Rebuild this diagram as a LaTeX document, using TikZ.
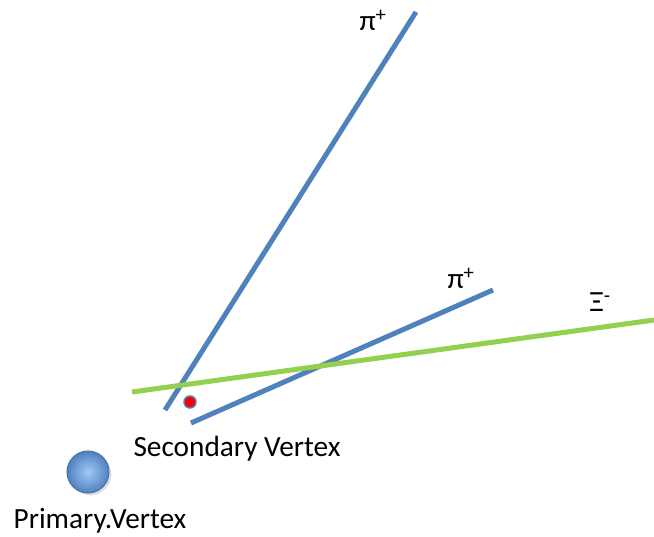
\documentclass[tikz,border=0pt]{standalone}
\usepackage{fontspec}
\setmainfont{Carlito}
\usetikzlibrary{shadows}
\definecolor{trkblue}{RGB}{79,129,189}
\definecolor{trkgreen}{RGB}{146,208,80}
\definecolor{balllight}{RGB}{165,200,248}
\begin{document}
\begin{tikzpicture}[x=1pt,y=-1pt,
  track/.style={line width=5pt},
  lbl/.style={font=\fontsize{29.3}{33}\selectfont, inner sep=0pt}]
\useasboundingbox (0,0) rectangle (654,537);
% endpoints
\coordinate (p1a) at (165,410);
\coordinate (p1b) at (416,12);
\coordinate (p2a) at (191,423);
\coordinate (p2b) at (493,290);
\coordinate (xia) at (132,392);
\coordinate (xib) at (654,320);
\draw[track, trkblue] (p1a) -- (p1b);
\draw[track, trkblue] (p2a) -- (p2b);
\draw[track, trkgreen] (xia) -- (xib);
\node[circle, fill=red, draw=trkblue, line width=1.5pt, minimum size=12pt, inner sep=0pt] (sv) at (190,402) {};
\node[circle, draw=trkblue!90!black, line width=1pt, minimum size=42pt, inner sep=0pt,
  inner color=balllight, outer color=trkblue, drop shadow={opacity=0.25}] (pv) at (88,472) {};
\node[lbl] (pi1) at (373,20) {π\textsuperscript{+}};
\node[lbl] (pi2) at (461,278) {π\textsuperscript{+}};
\node[lbl] (xi) at (600,302) {Ξ\textsuperscript{-}};
\node[lbl] (svl) at (237,449) {Secondary Vertex};
\node[lbl] (pvl) at (100,521) {Primary.Vertex};
\end{tikzpicture}
\end{document}
